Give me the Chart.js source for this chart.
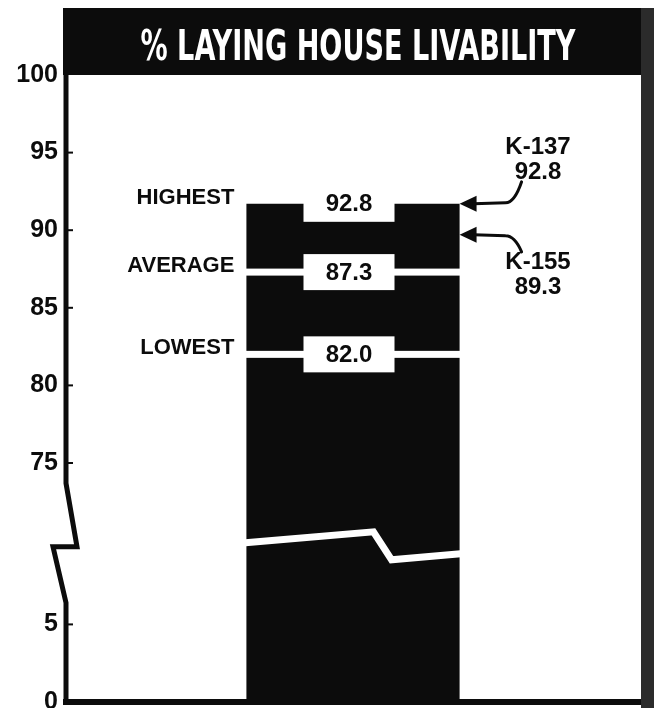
<!DOCTYPE html>
<html lang="en">
<head>
<meta charset="UTF-8">
<title>% Laying House Livability</title>
<script src="https://cdn.jsdelivr.net/npm/chart.js"></script>
<style>
    body { margin: 0; background: #fff; }
    .chart-box { width: 654px; height: 708px; }
</style>
</head>
<body>
<div class="chart-box"><canvas id="livChart"></canvas></div>

<script>
    // livability figures
    const levelNames = ['HIGHEST', 'AVERAGE', 'LOWEST'];
    const levelValues = [92.8, 87.3, 82.0];
    const strainNames = ['K-137', 'K-155'];
    const strainValues = [92.8, 89.3];
    const strainArrowAt = [91.7, 89.7];   // where the arrows touch the bar in the drawing
    const barTop = 91.7;                   // height the bar is drawn to
    const tickValues = [0, 5, 75, 80, 85, 90, 95, 100];

    // the axis is broken: everything between 10 and 69.6 is cut out
    const BREAK_LOW = 10, GAP = 59.6;
    function toAxis(v) { return v > BREAK_LOW ? v - GAP : v; }
    function fromAxis(v) { return v > BREAK_LOW ? Math.round(v + GAP) : Math.round(v); }

    const ink = '#0c0c0c';
    const numFont = 'bold 24px "Liberation Sans", Arial, sans-serif';

    const decor = {
        id: 'decor',
        beforeDraw(chart) {
            const ctx = chart.ctx;
            ctx.save();
            ctx.fillStyle = ink;
            ctx.fillRect(63, 8, 578, 67);        // title band
            ctx.fillStyle = '#2b2b2b';
            ctx.fillRect(641, 8, 13, 700);       // right edge of the frame
            ctx.restore();
        },
        afterDatasetsDraw(chart) {
            const ctx = chart.ctx;
            const y = chart.scales.y;
            const area = chart.chartArea;
            const bar = chart.getDatasetMeta(0).data[0];
            const left = bar.x - bar.width / 2, right = bar.x + bar.width / 2;
            const px = v => y.getPixelForValue(toAxis(v));
            const topPx = px(barTop);
            const bk = y.getPixelForValue(BREAK_LOW);

            ctx.save();

            // white rules for average and lowest
            ctx.fillStyle = '#fff';
            [1, 2].forEach(i => ctx.fillRect(left - 1, px(levelValues[i]) - 3.5, bar.width + 2, 7));

            // value boxes + level names
            const boxW = 91, boxH = 36, boxCx = bar.x - 4;
            const centers = [topPx, px(levelValues[1]), px(levelValues[2])];
            centers.forEach((c, i) => {
                ctx.fillStyle = '#fff';
                ctx.fillRect(boxCx - boxW / 2, c - boxH / 2, boxW, boxH);
                ctx.fillStyle = ink;
                ctx.textBaseline = 'middle';
                ctx.textAlign = 'center';
                ctx.font = numFont;
                ctx.fillText(levelValues[i].toFixed(1), boxCx, c + 1);
                ctx.textAlign = 'right';
                ctx.font = 'bold 22px "Liberation Sans", Arial, sans-serif';
                ctx.fillText(levelNames[i], left - 12, c - 6);
            });

            // break across the bar
            ctx.strokeStyle = '#fff';
            ctx.lineWidth = 7;
            ctx.beginPath();
            ctx.moveTo(left - 1, bk - 4);
            ctx.lineTo(left + bar.width * 0.596, bk - 15);
            ctx.lineTo(left + bar.width * 0.681, bk + 13);
            ctx.lineTo(right + 1, bk + 7);
            ctx.stroke();

            // left axis with its break
            const ax = area.left - 2;
            ctx.strokeStyle = ink;
            ctx.lineWidth = 5;
            ctx.beginPath();
            ctx.moveTo(ax, area.top);
            ctx.lineTo(ax, y.getPixelForValue(14.1));
            ctx.lineTo(ax + 11, bk);
            ctx.lineTo(ax - 13, bk);
            ctx.lineTo(ax, y.getPixelForValue(6.4));
            ctx.lineTo(ax, area.bottom + 2);
            ctx.stroke();

            // little tick nubs
            ctx.lineWidth = 2;
            tickValues.slice(1, -1).forEach(v => {
                const t = px(v);
                ctx.beginPath();
                ctx.moveTo(ax + 2, t);
                ctx.lineTo(ax + 7, t);
                ctx.stroke();
            });

            // bottom rule
            ctx.fillStyle = ink;
            ctx.fillRect(63, area.bottom - 3, 578, 6);

            // strain arrows and labels
            ctx.lineWidth = 3;
            ctx.lineCap = 'round';
            strainArrowAt.forEach((v, i) => {
                const ty = px(v);
                const dir = i === 0 ? -1 : 1;
                ctx.fillStyle = ink;
                ctx.beginPath();
                ctx.moveTo(right, ty);
                ctx.lineTo(right + 17, ty - 8);
                ctx.lineTo(right + 17, ty + 8);
                ctx.closePath();
                ctx.fill();
                ctx.beginPath();
                ctx.moveTo(right + 14, ty);
                ctx.lineTo(right + 46, ty + dir);
                ctx.quadraticCurveTo(right + 55, ty + dir, right + 62, ty + dir * (i === 0 ? 22 : 17));
                ctx.stroke();

                ctx.font = numFont;
                ctx.textAlign = 'center';
                ctx.textBaseline = 'middle';
                const lx = 538;
                if (i === 0) {
                    ctx.fillText(strainNames[i], lx, ty - 56);
                    ctx.fillText(strainValues[i].toFixed(1), lx, ty - 31);
                } else {
                    ctx.fillText(strainNames[i], lx, ty + 28);
                    ctx.fillText(strainValues[i].toFixed(1), lx, ty + 53);
                }
            });

            ctx.restore();
        },
        afterDraw(chart) {
            const ctx = chart.ctx;
            const title = '% LAYING HOUSE LIVABILITY';
            ctx.save();
            ctx.font = 'bold 42px "Liberation Sans Narrow", "DejaVu Sans Condensed", sans-serif';
            const w = ctx.measureText(title).width;
            ctx.translate(358, 60);
            ctx.scale(435 / w, 1);
            ctx.fillStyle = '#fff';
            ctx.textAlign = 'center';
            ctx.textBaseline = 'alphabetic';
            ctx.fillText(title, 0, 0);
            ctx.restore();
        }
    };

    const config = {
        type: 'bar',
        data: {
            labels: [''],
            datasets: [{
                label: 'Livability',
                data: [toAxis(barTop)],
                backgroundColor: ink,
                borderWidth: 0,
                barPercentage: 0.374,
                categoryPercentage: 1
            }]
        },
        options: {
            responsive: true,
            maintainAspectRatio: false,
            animation: false,
            layout: { padding: { top: 75, right: 16, bottom: 6, left: 0 } },
            plugins: {
                legend: { display: false },
                tooltip: { enabled: false }
            },
            scales: {
                x: { display: false },
                y: {
                    min: 0,
                    max: toAxis(100),
                    grid: { display: false },
                    border: { display: false },
                    afterBuildTicks: s => { s.ticks = tickValues.map(v => ({ value: toAxis(v) })); },
                    afterFit: s => {
                        s.width = 68;
                        s.paddingTop = 0;
                        s.paddingBottom = 0;
                    },
                    ticks: {
                        padding: 2,
                        color: ink,
                        autoSkip: false,
                        font: { family: 'Liberation Sans', size: 25, weight: 'bold' },
                        callback: val => fromAxis(val)
                    }
                }
            }
        },
        plugins: [decor]
    };

    new Chart(document.getElementById('livChart').getContext('2d'), config);
</script>
</body>
</html>
